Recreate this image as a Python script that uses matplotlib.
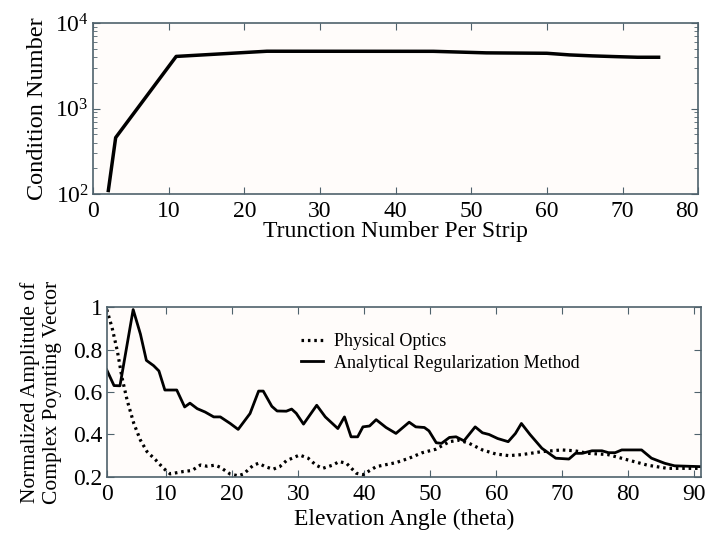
import matplotlib
matplotlib.use("Agg")
import matplotlib.pyplot as plt
from matplotlib.ticker import LogLocator, NullFormatter

plt.rcParams['font.family'] = ['Liberation Serif', 'DejaVu Serif']
plt.rcParams['mathtext.fontset'] = 'stix'

# верхний график: число обусловленности
trunc_n = [2, 3, 11, 23, 45, 52, 60, 63, 66, 69, 72, 75]
cond_num = [105, 457, 4070, 4680, 4670, 4480, 4430, 4240, 4130, 4050, 3980, 3980]

# нижний график: нормированная амплитуда
arm_theta = [1, 2.1, 3.0, 5.0, 6.1, 7.0, 8.1, 8.9, 9.8, 11.6, 12.8, 13.6, 14.7, 15.9,
             17.2, 18.2, 19.7, 20.9, 22.7, 24.0, 24.7, 26.0, 26.8, 28.2, 29.0, 29.7,
             30.8, 32.8, 34.1, 36.0, 37.0, 38.0, 39.0, 39.8, 40.8, 41.8, 43.3, 44.8,
             46.8, 47.8, 49.1, 49.8, 50.9, 51.7, 52.9, 53.9, 55.1, 56.8, 57.9, 58.9,
             60.2, 61.8, 62.9, 63.8, 65.1, 66.9, 69.0, 71.0, 72.0, 73.0, 74.5, 76.0,
             77.0, 78.0, 79.0, 82.0, 83.5, 85.5, 87.0, 91.0]
arm_amp = [0.705, 0.631, 0.63, 0.99, 0.874, 0.75, 0.725, 0.70, 0.61, 0.61, 0.53, 0.548,
           0.522, 0.506, 0.483, 0.483, 0.452, 0.424, 0.499, 0.605, 0.605, 0.533, 0.511,
           0.51, 0.52, 0.50, 0.449, 0.538, 0.483, 0.428, 0.483, 0.389, 0.389, 0.436,
           0.44, 0.47, 0.433, 0.405, 0.458, 0.436, 0.433, 0.417, 0.361, 0.358, 0.386,
           0.389, 0.37, 0.436, 0.408, 0.40, 0.381, 0.366, 0.405, 0.452, 0.40, 0.335,
           0.288, 0.284, 0.311, 0.311, 0.323, 0.323, 0.314, 0.314, 0.327, 0.327, 0.288,
           0.264, 0.252, 0.248]

po_theta = [1.0, 1.8, 2.6, 3.3, 4.1, 5.1, 6.1, 7.1, 8.4, 9.6, 10.6, 12.6, 13.9, 15.2,
            16.2, 17.4, 18.2, 19.7, 20.9, 21.7, 23.2, 24.0, 25.0, 26.2, 27.2, 28.2,
            30.2, 31.5, 32.7, 33.7, 35.2, 36.2, 37.3, 38.8, 39.8, 41.8, 44.8, 46.8,
            48.8, 50.8, 52.9, 54.4, 55.9, 57.9, 59.9, 61.9, 63.9, 66.9, 69.9, 71.9,
            73.9, 76.9, 79.9, 82.9, 85.9, 91.0]
po_amp = [0.99, 0.905, 0.795, 0.67, 0.56, 0.452, 0.373, 0.319, 0.28, 0.24, 0.214, 0.225,
          0.23, 0.256, 0.25, 0.255, 0.245, 0.213, 0.205, 0.213, 0.255, 0.264, 0.248,
          0.236, 0.248, 0.276, 0.303, 0.288, 0.255, 0.24, 0.255, 0.272, 0.264, 0.217,
          0.21, 0.248, 0.267, 0.288, 0.314, 0.33, 0.366, 0.373, 0.358, 0.327, 0.308,
          0.30, 0.305, 0.319, 0.327, 0.323, 0.311, 0.305, 0.28, 0.255, 0.24, 0.24]

spine_col = '#4f626c'
bg_col = '#fffcfa'
serif = ['Liberation Serif', 'DejaVu Serif']

fig = plt.figure(figsize=(7.07, 5.36), dpi=100)
ax1 = fig.add_axes([0.1315, 0.638, 0.856, 0.319])
ax2 = fig.add_axes([0.151, 0.1104, 0.8405, 0.316])

for ax in (ax1, ax2):
    ax.set_facecolor(bg_col)
    for s in ax.spines.values():
        s.set_color(spine_col)
        s.set_linewidth(1.2)
    ax.tick_params(which='both', direction='in', top=True, right=True,
                   color=spine_col, labelsize=17)
    ax.tick_params(axis='x', pad=5)
    ax.tick_params(axis='y', pad=3)
    ax.tick_params(which='major', length=5)
    ax.tick_params(which='minor', length=3)

# верх
ax1.plot(trunc_n, cond_num, color='black', lw=2.5, solid_capstyle='butt')
ax1.set_yscale('log')
ax1.set_xlim(0, 80)
ax1.set_ylim(100, 10000)
ax1.set_xticks(range(0, 81, 10))
ax1.set_xticklabels([str(v) for v in range(0, 81, 10)], family=serif)
ax1.get_xticklabels()[-1].set_horizontalalignment('right')
ax1.get_xticklabels()[-1].set_x(80)
ax1.yaxis.set_minor_locator(LogLocator(base=10, subs=range(2, 10)))
ax1.yaxis.set_minor_formatter(NullFormatter())
ax1.set_xlabel('Trunction Number Per Strip', fontsize=17, labelpad=-1)
ax1.set_ylabel('Condition Number', fontsize=17.5, labelpad=5)

# низ
ax2.plot(po_theta, po_amp, color='black', lw=2.3, linestyle=(0, (0.8, 1.2)),
         label='Physical Optics')
ax2.plot(arm_theta, arm_amp, color='black', lw=2.0,
         label='Analytical Regularization Method')
ax2.set_xlim(1, 91)
ax2.set_ylim(0.2, 1.0)
ax2.set_xticks([1] + list(range(10, 91, 10)))
ax2.set_xticklabels(['0'] + [str(v) for v in range(10, 91, 10)], family=serif)
ax2.set_yticks([0.2, 0.4, 0.6, 0.8, 1.0])
ax2.set_yticklabels(['0.2', '0.4', '0.6', '0.8', '1'], family=serif)
ax2.set_xlabel('Elevation Angle (theta)', fontsize=17, labelpad=3)
ax2.set_ylabel('Normalized Amplitude of\nComplex Poynting Vector', fontsize=15.5,
               labelpad=8, linespacing=1.25)
ax2.legend(loc='upper left', bbox_to_anchor=(0.30, 0.945), frameon=False,
           fontsize=13, handlelength=1.2, handletextpad=0.6, labelspacing=0.25)

fig.savefig('out.png', dpi=100)
